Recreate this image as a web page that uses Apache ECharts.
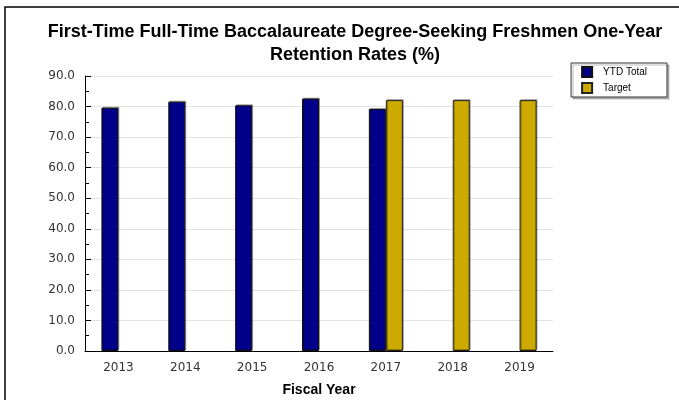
<!DOCTYPE html>
<html>
<head>
<meta charset="utf-8">
<script src="https://cdn.jsdelivr.net/npm/echarts@6/dist/echarts.min.js"></script>
<style>
  html, body { margin: 0; padding: 0; background: #fff; }
  #chart { width: 679px; height: 400px; }
</style>
</head>
<body>
<div id="chart"></div>
<script>
// fiscal years on the x axis
var years = ["2013", "2014", "2015", "2016", "2017", "2018", "2019"];
// actual retention rates, empty where not reported yet
var ytdTotal = [79.6, 81.6, 80.4, 82.6, 79.2, null, null];
// target rates, only from 2017 on
var target = [null, null, null, null, 82.1, 82.1, 82.1];

var chart = echarts.init(document.getElementById("chart"));

var option = {
  animation: false,
  textStyle: { fontFamily: "DejaVu Sans, sans-serif" },
  title: {
    text: "First-Time Full-Time Baccalaureate Degree-Seeking Freshmen One-Year\nRetention Rates (%)",
    left: 350,
    top: 16,
    textAlign: "center",
    textStyle: {
      fontFamily: "Liberation Sans, Arial, sans-serif",
      fontSize: 18,
      fontWeight: "bold",
      color: "#000",
      lineHeight: 23
    }
  },
  legend: {
    orient: "vertical",
    right: 12,
    top: 63,
    icon: "rect",
    itemWidth: 10,
    itemHeight: 10,
    itemGap: 4,
    padding: [3, 20, 3, 10],
    borderColor: "#333",
    borderWidth: 1,
    borderRadius: 0,
    shadowColor: "rgba(0,0,0,0.25)",
    shadowOffsetX: 2,
    shadowOffsetY: 2,
    shadowBlur: 0,
    backgroundColor: "#fff",
    textStyle: {
      fontFamily: "Liberation Sans, Arial, sans-serif",
      fontSize: 10,
      color: "#000",
      padding: [0, 0, 0, 6]
    },
    data: ["YTD Total", "Target"]
  },
  grid: {
    left: 85,
    right: 126,
    top: 76,
    bottom: 49,
    containLabel: false,
    outerBoundsMode: "none"
  },
  xAxis: {
    type: "category",
    data: years,
    name: "Fiscal Year",
    nameLocation: "middle",
    nameGap: 32,
    nameTextStyle: {
      fontFamily: "Liberation Sans, Arial, sans-serif",
      fontSize: 14,
      fontWeight: "bold",
      color: "#000"
    },
    axisLine: { lineStyle: { color: "#000", width: 1 } },
    axisTick: { inside: true, length: 6, lineStyle: { color: "#000" } },
    axisLabel: { fontSize: 12, color: "#333", margin: 11 },
    splitLine: { show: false }
  },
  yAxis: {
    type: "value",
    min: 0,
    max: 90,
    interval: 10,
    axisLine: { show: true, lineStyle: { color: "#000", width: 1 } },
    axisTick: { show: true, inside: true, length: 6, lineStyle: { color: "#000" } },
    minorTick: { show: true, splitNumber: 2, length: 4, lineStyle: { color: "#000" } },
    axisLabel: {
      fontSize: 12,
      color: "#333",
      margin: 10,
      formatter: function (v) { return v.toFixed(1); }
    },
    splitLine: { show: true, lineStyle: { color: "#e2e2e2", width: 1 } }
  },
  series: [
    {
      name: "YTD Total",
      type: "bar",
      data: ytdTotal,
      barWidth: 17,
      barGap: "0%",
      itemStyle: {
        color: "#000088",
        borderColor: "#111",
        borderWidth: 1,
        shadowColor: "rgba(0,0,0,0.3)",
        shadowOffsetX: 1,
        shadowOffsetY: -1
      }
    },
    {
      name: "Target",
      type: "bar",
      data: target,
      barWidth: 17,
      barGap: "0%",
      itemStyle: {
        color: "#ccaa00",
        borderColor: "#222",
        borderWidth: 1,
        shadowColor: "rgba(0,0,0,0.3)",
        shadowOffsetX: 1,
        shadowOffsetY: -1
      }
    }
  ],
  graphic: [
    {
      type: "rect",
      shape: { x: 5, y: 7, width: 700, height: 420 },
      style: { fill: "none", stroke: "#000", lineWidth: 1.5 },
      silent: true
    }
  ]
};

chart.setOption(option);
</script>
</body>
</html>
